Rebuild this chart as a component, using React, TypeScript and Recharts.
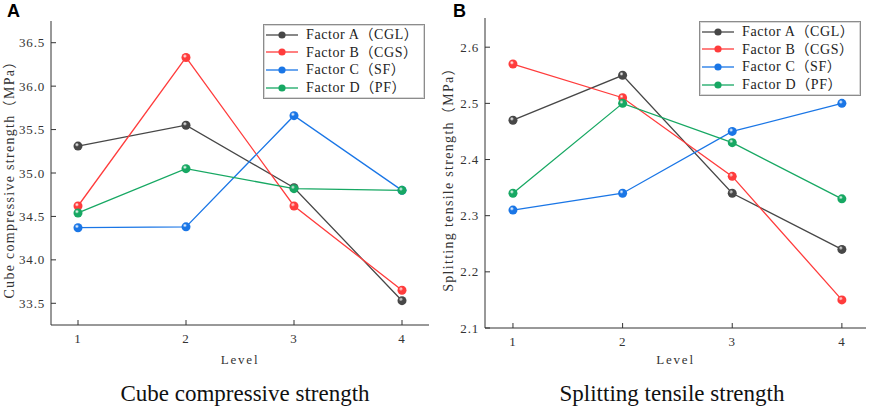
import { LineChart, Line, XAxis, YAxis, Legend } from "recharts";

const levels = [1, 2, 3, 4];
const seriesKeys = ["cgl", "cgs", "sf", "pf"];
const seriesNames = ["Factor A（CGL）", "Factor B（CGS）", "Factor C（SF）", "Factor D（PF）"];
const seriesColors = ["#474747", "#ff3c3c", "#1a76e6", "#17a863"];

// panel A: cube compressive strength (MPa)
const cubeCGL = [35.31, 35.55, 34.83, 33.53];
const cubeCGS = [34.62, 36.33, 34.62, 33.65];
const cubeSF = [34.37, 34.38, 35.66, 34.8];
const cubePF = [34.54, 35.05, 34.82, 34.8];
const cubeTicks = [33.5, 34.0, 34.5, 35.0, 35.5, 36.0, 36.5];
const cubeMinor = [33.25, 33.75, 34.25, 34.75, 35.25, 35.75, 36.25, 36.75];

// panel B: splitting tensile strength (MPa)
const splitCGL = [2.47, 2.55, 2.34, 2.24];
const splitCGS = [2.57, 2.51, 2.37, 2.15];
const splitSF = [2.31, 2.34, 2.45, 2.5];
const splitPF = [2.34, 2.5, 2.43, 2.33];
const splitTicks = [2.1, 2.2, 2.3, 2.4, 2.5, 2.6];
const splitMinor = [2.15, 2.25, 2.35, 2.45, 2.55, 2.65];

const SERIF = '"Liberation Serif", "Noto Sans CJK SC", serif';

const toRows = (cols: number[][]) =>
  levels.map((level, i) => {
    const row: Record<string, number> = { level };
    seriesKeys.forEach((k, j) => (row[k] = cols[j][i]));
    return row;
  });

const cubeRows = toRows([cubeCGL, cubeCGS, cubeSF, cubePF]);
const splitRows = toRows([splitCGL, splitCGS, splitSF, splitPF]);

const FactorLegend = ({ payload }: any) => (
  <div
    style={{
      border: "1px solid #8c8c8c",
      boxShadow: "inset 0 0 0 1px #d8d8d8",
      background: "#fff",
      padding: "1px 6px 2px 2px",
      fontFamily: SERIF,
      fontSize: 14,
      letterSpacing: 0.6,
      color: "#222",
      lineHeight: "17.6px",
    }}
  >
    {(payload || []).map((entry: any) => (
      <div key={entry.value} style={{ display: "flex", alignItems: "center", whiteSpace: "nowrap" }}>
        <svg width={32} height={10} style={{ flex: "none" }}>
          <line x1={0} y1={5} x2={32} y2={5} stroke={entry.color} strokeWidth={1.3} />
          <circle cx={16} cy={5} r={3.6} fill={entry.color} />
        </svg>
        <span style={{ marginLeft: 8 }}>{entry.value}</span>
      </div>
    ))}
  </div>
);

const YTitle = ({ viewBox, value, cx, dy }: any) => {
  const x = viewBox.x + cx;
  const y = viewBox.y + viewBox.height / 2 + dy;
  return (
    <text
      x={x}
      y={y}
      transform={`rotate(-90, ${x}, ${y})`}
      textAnchor="middle"
      dominantBaseline="central"
      fontFamily={SERIF}
      fontSize={14}
      letterSpacing={1.3}
      fill="#333"
    >
      {value}
    </text>
  );
};

const NoTick = () => <g />;

type PanelProps = {
  left: number;
  letter: string;
  title: string;
  titleCenter: number;
  yTitle: string;
  yTitleX: number;
  rows: Record<string, number>[];
  yDomain: [number, number];
  yTicks: number[];
  yMinor: number[];
  xDomain: [number, number];
  yAxisWidth: number;
  xAxisHeight: number;
  top: number;
  right: number;
  legendTop: number;
};

const tickStyle = { fontFamily: SERIF, fontSize: 13, letterSpacing: 0.8, fill: "#333" };

const Panel = (p: PanelProps) => (
  <div style={{ position: "absolute", left: p.left, top: 0, width: 436, height: 412 }}>
    <div
      style={{
        position: "absolute",
        left: p.letter === "A" ? 7 : 17,
        top: 2,
        fontFamily: '"Liberation Sans", Arial, sans-serif',
        fontWeight: "bold",
        fontSize: 18,
        lineHeight: "18px",
      }}
    >
      {p.letter}
    </div>
    <LineChart
      width={436}
      height={370}
      data={p.rows}
      margin={{ top: p.top, right: p.right, bottom: 0, left: 0 }}
    >
      <defs>
        {seriesKeys.map((k, i) => (
          <radialGradient key={k} id={`ball-${p.letter}-${k}`} cx="38%" cy="35%" r="65%">
            <stop offset="0%" stopColor="#ffffff" stopOpacity={0.75} />
            <stop offset="35%" stopColor={seriesColors[i]} />
            <stop offset="100%" stopColor={seriesColors[i]} />
          </radialGradient>
        ))}
      </defs>
      <XAxis
        dataKey="level"
        type="number"
        domain={p.xDomain}
        ticks={levels}
        allowDataOverflow
        height={p.xAxisHeight}
        tickSize={-5}
        tickMargin={14}
        tick={tickStyle}
        stroke="#333"
        label={{
          value: "Level",
          position: "insideBottom",
          offset: 6,
          fontFamily: SERIF,
          fontSize: 13,
          letterSpacing: 1.8,
          fill: "#333",
        }}
      />
      <XAxis
        xAxisId="top"
        orientation="top"
        dataKey="level"
        type="number"
        domain={p.xDomain}
        height={0}
        tick={false}
        tickLine={false}
        stroke="#444"
      />
      <YAxis
        yAxisId="minor"
        mirror
        type="number"
        domain={p.yDomain}
        ticks={p.yMinor}
        allowDataOverflow
        width={0}
        tickSize={3}
        axisLine={false}
        tick={NoTick}
        stroke="#333"
      />
      <YAxis
        type="number"
        domain={p.yDomain}
        ticks={p.yTicks}
        allowDataOverflow
        width={p.yAxisWidth}
        tickSize={-5}
        tickMargin={11}
        tickFormatter={(v: number) => v.toFixed(1)}
        tick={tickStyle}
        stroke="#333"
        label={{
          value: p.yTitle,
          content: (props: any) => <YTitle {...props} value={p.yTitle} cx={p.yTitleX} dy={3} />,
        }}
      />
      <YAxis
        yAxisId="right"
        orientation="right"
        type="number"
        domain={p.yDomain}
        width={0}
        tick={false}
        tickLine={false}
        stroke="#444"
      />
      <Legend
        layout="vertical"
        align="center"
        verticalAlign="middle"
        wrapperStyle={{ left: 263, top: p.legendTop, width: "auto" }}
        content={<FactorLegend />}
      />
      {seriesKeys.map((k, i) => (
        <Line
          key={k}
          dataKey={k}
          name={seriesNames[i]}
          type="linear"
          stroke={seriesColors[i]}
          strokeWidth={1.3}
          dot={{ r: 4.5, fill: `url(#ball-${p.letter}-${k})`, stroke: "none" }}
          activeDot={false}
          isAnimationActive={false}
        />
      ))}
    </LineChart>
    <div
      style={{
        position: "absolute",
        left: p.titleCenter - 200,
        width: 400,
        top: 382,
        textAlign: "center",
        fontFamily: '"Liberation Serif", "Times New Roman", serif',
        fontSize: 23,
        lineHeight: "24px",
        color: "#111",
      }}
    >
      {p.title}
    </div>
  </div>
);

export default function App() {
  return (
    <div style={{ position: "absolute", left: 0, top: 0, width: 872, height: 412, background: "#fff", overflow: "hidden" }}>
      <Panel
        left={0}
        letter="A"
        title="Cube compressive strength"
        titleCenter={245}
        yTitle="Cube compressive strength（MPa）"
        yTitleX={9}
        rows={cubeRows}
        yDomain={[33.25, 36.75]}
        yTicks={cubeTicks}
        yMinor={cubeMinor}
        xDomain={[0.75, 4.25]}
        yAxisWidth={51}
        xAxisHeight={45}
        top={21}
        right={7}
        legendTop={24}
      />
      <Panel
        left={436}
        letter="B"
        title="Splitting tensile strength"
        titleCenter={672 - 436}
        yTitle="Splitting tensile strength（MPa）"
        yTitleX={12}
        rows={splitRows}
        yDomain={[2.1, 2.652]}
        yTicks={splitTicks}
        yMinor={splitMinor}
        xDomain={[0.745, 4.22]}
        yAxisWidth={49}
        xAxisHeight={42}
        top={18}
        right={6}
        legendTop={21}
      />
    </div>
  );
}
